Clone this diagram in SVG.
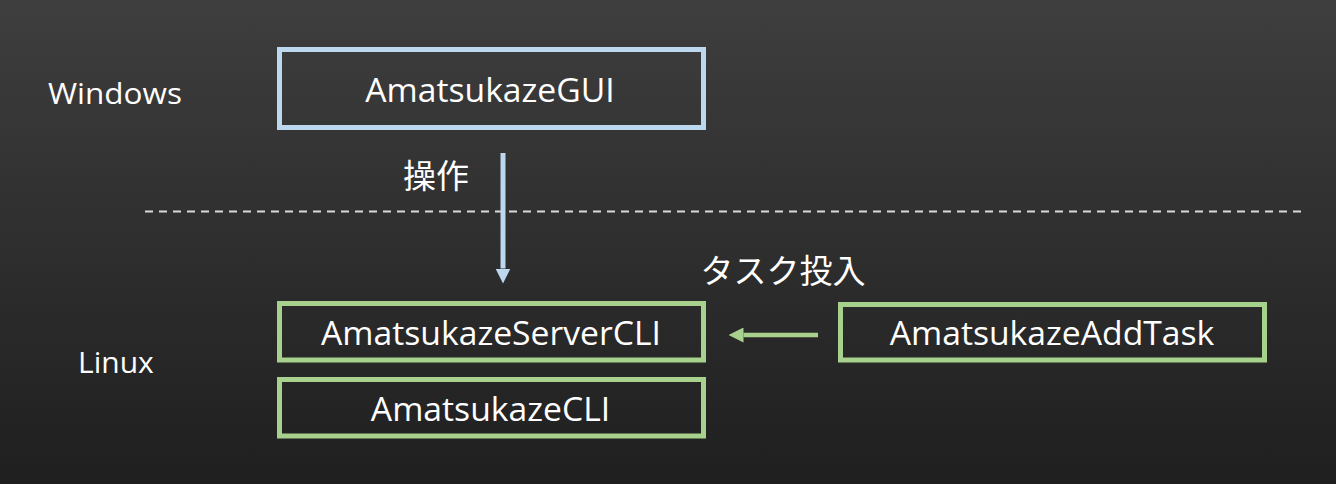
<svg xmlns="http://www.w3.org/2000/svg" width="1336" height="484" viewBox="0 0 1336 484">
<defs>
<linearGradient id="bg" x1="0" y1="0" x2="0" y2="1">
<stop offset="0" stop-color="#3e3e3e"/>
<stop offset="1" stop-color="#1f1f1f"/>
</linearGradient>
<marker id="ahBlue" viewBox="0 0 10 10" refX="0" refY="5" markerWidth="15" markerHeight="15" markerUnits="userSpaceOnUse" orient="auto">
<path d="M0,0 L10,5 L0,10 Z" fill="#BDD7EE"/>
</marker>
<marker id="ahGreen" viewBox="0 0 10 10" refX="0" refY="5" markerWidth="15" markerHeight="15" markerUnits="userSpaceOnUse" orient="auto">
<path d="M0,0 L10,5 L0,10 Z" fill="#A9D18E"/>
</marker>
</defs>
<style>
.lbl{font-family:"Open Sans","Noto Sans","Noto Sans CJK JP",sans-serif;fill:#ffffff;}
.node{font-size:33.7px;text-anchor:middle;}
.side{font-size:30px;}
.jp{font-family:"Noto Sans CJK JP",sans-serif;font-size:33px;fill:#ffffff;}
.boxB{fill:none;stroke:#BDD7EE;stroke-width:5;}
.boxG{fill:none;stroke:#A9D18E;stroke-width:5;}
</style>
<rect x="0" y="0" width="1336" height="484" fill="url(#bg)"/>
<line x1="145" y1="211.5" x2="1306" y2="211.5" stroke="#d9d9d9" stroke-width="2" stroke-dasharray="8 6"/>
<text class="lbl side" x="48" y="104" textLength="134" lengthAdjust="spacingAndGlyphs">Windows</text>
<text class="lbl side" x="78" y="373">Linux</text>
<g id="connectors">
<line x1="503" y1="153" x2="503" y2="268.5" stroke="#BDD7EE" stroke-width="5" marker-end="url(#ahBlue)"/>
<text class="jp" x="436" y="188" text-anchor="middle">操作</text>
<line x1="818" y1="335" x2="743.5" y2="335" stroke="#A9D18E" stroke-width="4.5" marker-end="url(#ahGreen)"/>
<text class="jp" x="783" y="283" text-anchor="middle">タスク投入</text>
</g>
<g id="gui">
<rect class="boxB" x="279.5" y="49.5" width="424" height="78"/>
<text class="lbl node" x="490" y="102">AmatsukazeGUI</text>
</g>
<g id="servercli">
<rect class="boxG" x="279.5" y="303.5" width="424" height="56.5"/>
<text class="lbl node" x="491" y="345">AmatsukazeServerCLI</text>
</g>
<g id="cli">
<rect class="boxG" x="279.5" y="379.5" width="424" height="56.5"/>
<text class="lbl node" x="490.5" y="421">AmatsukazeCLI</text>
</g>
<g id="addtask">
<rect class="boxG" x="840.5" y="304.5" width="424" height="55.5"/>
<text class="lbl node" x="1052" y="345">AmatsukazeAddTask</text>
</g>
</svg>
